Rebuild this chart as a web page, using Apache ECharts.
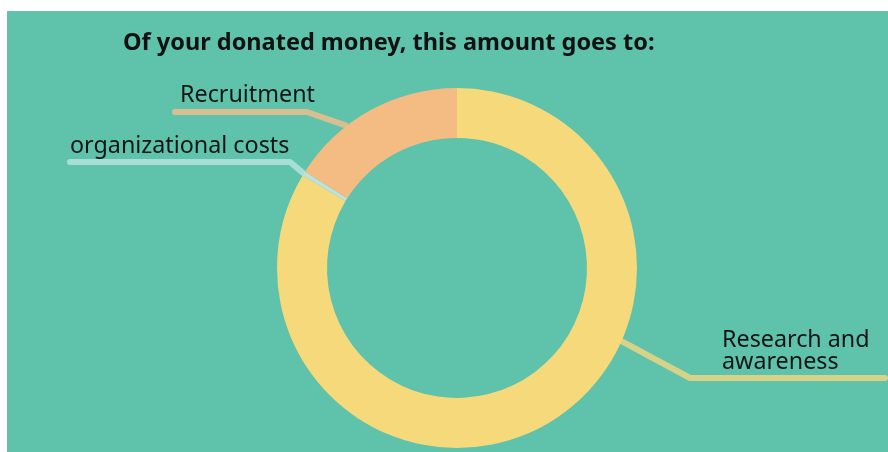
<!DOCTYPE html>
<html><head><meta charset="utf-8">
<script src="https://cdn.jsdelivr.net/npm/echarts@6/dist/echarts.min.js"></script>
<style>
html,body{margin:0;padding:0;background:#fff;width:888px;height:452px;overflow:hidden}
#c{position:absolute;left:7px;top:11px;width:881px;height:441px}
</style></head>
<body><div id="c"></div>
<script>
// ---- data ----
const categories = ['Research and awareness', 'organizational costs', 'Recruitment'];
const labelTexts = ['Research and\nawareness', 'organizational costs', 'Recruitment'];
const shares = [83.6, 0.4, 16.0];
const titleText = 'Of your donated money, this amount goes to:';

// ---- style / layout ----
const sliceColors = ['#F6D97B', '#BCE2DA', '#F4BC82'];
const lineColors = ['#EBD683', '#B4E3DF', '#EDBE8C'];
const CX = 450, CY = 257, R_IN = 130, R_OUT = 180;
// label anchors and leader-line geometry in chart pixels (attach angle: deg clockwise from top)
const labelLayouts = [
  { x: 715, y: 340, attachDeg: 114, bend: [683, 367], end: [878, 367] },
  { x: 63, y: 135, attachDeg: -58.3, bend: [283, 151], end: [63, 151] },
  { x: 173, y: 84, attachDeg: -38, bend: [300, 101], end: [168, 101] }
];

function ringPoint(deg, r) {
  const a = deg * Math.PI / 180;
  return [CX + r * Math.sin(a), CY - r * Math.cos(a)];
}

const chart = echarts.init(document.getElementById('c'), null, { renderer: 'canvas' });
chart.setOption({
  backgroundColor: '#5FC3AB',
  animation: false,
  title: {
    text: titleText,
    left: 111, top: 15,
    textStyle: { fontFamily: 'Noto Sans', fontWeight: 'bold', fontSize: 23.5, color: '#111' }
  },
  series: [{
    type: 'pie',
    center: [CX, CY],
    radius: [R_IN, R_OUT],
    startAngle: 90,
    clockwise: true,
    silent: true,
    data: categories.map((c, i) => ({
      name: c, value: shares[i],
      itemStyle: { color: sliceColors[i] },
      label: { formatter: labelTexts[i] },
      labelLine: { lineStyle: { color: lineColors[i] } }
    })),
    label: {
      show: true, position: 'outside',
      fontFamily: 'Noto Sans', fontSize: 23.3, color: '#151515', lineHeight: 22
    },
    labelLine: {
      show: true, length: 20, length2: 20,
      lineStyle: { width: 6, opacity: 0.85, cap: 'round', join: 'round' }
    },
    labelLayout: function (p) {
      const L = labelLayouts[p.dataIndex];
      return {
        x: L.x, y: L.y, align: 'left', verticalAlign: 'middle',
        labelLinePoints: [ringPoint(L.attachDeg, R_OUT + 1), L.bend, L.end]
      };
    }
  }]
});
</script>
</body></html>
